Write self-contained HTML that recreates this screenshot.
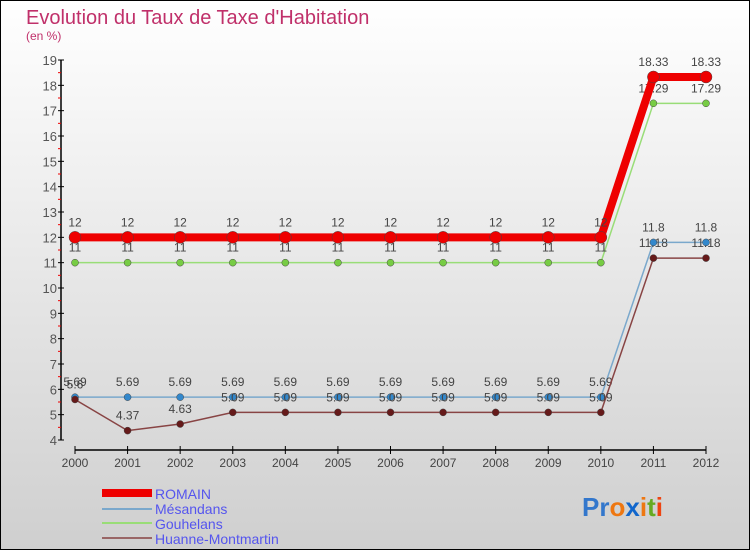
<!DOCTYPE html>
<html><head><meta charset="utf-8"><style>
body{margin:0}
#c{width:750px;height:550px;position:relative;overflow:hidden}
svg text{font-family:"Liberation Sans",sans-serif}
</style></head><body>
<div id="c">
<svg id="s" width="750" height="550" xmlns="http://www.w3.org/2000/svg">
<defs><linearGradient id="bg" x1="0" y1="0" x2="0" y2="1"><stop offset="0" stop-color="#ffffff"/><stop offset="1" stop-color="#cfcfcf"/></linearGradient></defs>
<rect x="0.5" y="0.5" width="749" height="549" fill="url(#bg)" stroke="#000"/>
<text x="26" y="24" font-size="20" fill="#c0306a">Evolution du Taux de Taxe d'Habitation</text>
<text x="26" y="40" font-size="12" fill="#c0306a">(en %)</text>
<g id="axes"></g><g id="series"></g>
<g>
<rect x="102" y="489" width="50" height="8" fill="#e00"/>
<text x="155" y="499" font-size="14" fill="#5555ee">ROMAIN</text>
<line x1="102" y1="509" x2="152" y2="509" stroke="#7aa8cc" stroke-width="2"/>
<text x="155" y="514" font-size="14" fill="#5555ee">Mésandans</text>
<line x1="102" y1="523" x2="152" y2="523" stroke="#99dd77" stroke-width="2"/>
<text x="155" y="529" font-size="14" fill="#5555ee">Gouhelans</text>
<line x1="102" y1="538" x2="152" y2="538" stroke="#996666" stroke-width="2"/>
<text x="155" y="544" font-size="14" fill="#5555ee">Huanne-Montmartin</text>
</g>
<text x="582" y="516" font-size="26" font-weight="bold"><tspan fill="#3377cc">Pr</tspan><tspan fill="#ee7711">o</tspan><tspan fill="#1166cc">x</tspan><tspan fill="#ee7711">i</tspan><tspan fill="#66aa22">t</tspan><tspan fill="#ee4411">i</tspan></text>
</svg></div>
<script>
const years=[2000,2001,2002,2003,2004,2005,2006,2007,2008,2009,2010,2011,2012];
const romain=[12,12,12,12,12,12,12,12,12,12,12,18.33,18.33];
const mesandans=[5.69,5.69,5.69,5.69,5.69,5.69,5.69,5.69,5.69,5.69,5.69,11.8,11.8];
const gouhelans=[11,11,11,11,11,11,11,11,11,11,11,17.29,17.29];
const huanne=[5.6,4.37,4.63,5.09,5.09,5.09,5.09,5.09,5.09,5.09,5.09,11.18,11.18];
const yTicks=[4,5,6,7,8,9,10,11,12,13,14,15,16,17,18,19];
const NS="http://www.w3.org/2000/svg";
const X=i=>75+i*(706-75)/(years.length-1);
const Y=v=>440-(v-4)*(380/15);
function mk(t,a,p){const e=document.createElementNS(NS,t);for(const k in a)e.setAttribute(k,a[k]);p.appendChild(e);return e;}
const ax=document.getElementById('axes');
const yl=mk('line',{x1:61,y1:Y(19),x2:61,y2:440,stroke:'#000','stroke-width':1.5},ax);


const xl=mk('line',{x1:75,y1:450,x2:706,y2:450,stroke:'#000','stroke-width':1.5},ax);


yTicks.forEach(v=>{
 mk('line',{x1:58,y1:Y(v),x2:64,y2:Y(v),stroke:'#000'},ax);
 if(v<19) mk('line',{x1:58,y1:Y(v+0.5),x2:61,y2:Y(v+0.5),stroke:'#e00'},ax);
 const t=mk('text',{x:57,y:Y(v)+5,'text-anchor':'end','font-size':13,fill:'#555'},ax);t.textContent=v;
 
 
});
years.forEach((yr,i)=>{
 mk('line',{x1:X(i),y1:446,x2:X(i),y2:454,stroke:'#000'},ax);
 const t=mk('text',{x:X(i),y:467,'text-anchor':'middle','font-size':12,fill:'#444'},ax);t.textContent=yr;
 
 
});
const sg=document.getElementById('series');
function series(name,data,col,w,r,dot){
 const g=mk('g',{},sg);
 
 
 const p=mk('polyline',{points:data.map((v,i)=>X(i)+','+Y(v)).join(' '),fill:'none',stroke:col,'stroke-width':w},g);
 
 
 data.forEach((v,i)=>{
  const c=mk('circle',{cx:X(i),cy:Y(v),r:r,fill:dot,stroke:'#444','stroke-width':0.5},g);
  
  
  const t=mk('text',{x:X(i),y:Y(v)-11,'text-anchor':'middle','font-size':12,fill:'#444'},g);t.textContent=v;
  
  
 });
}
series('gouhelans',gouhelans,'#99dd77',1.5,3.5,'#77cc44');
series('mesandans',mesandans,'#7aa8cc',1.5,3.5,'#3388cc');
series('huanne',huanne,'#884444',1.5,3.5,'#661a1a');
series('romain',romain,'#ee0000',8,6,'#ee0000');
</script>
</body></html>
